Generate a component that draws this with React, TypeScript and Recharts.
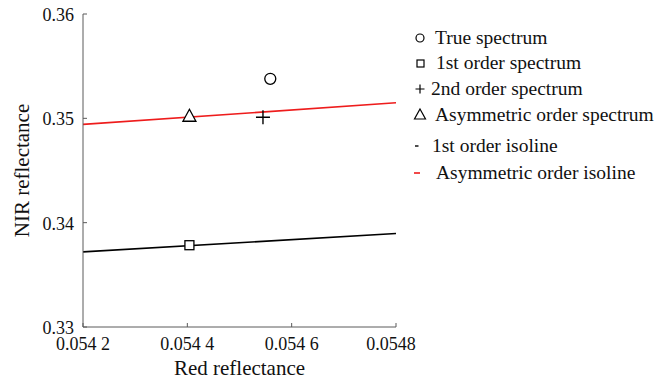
import React from 'react';
import { ComposedChart, Line, Scatter, XAxis, YAxis, Legend } from 'recharts';

const xTicks = [0.0542, 0.0544, 0.0546, 0.0548];
const xTickLabels = ['0.054 2', '0.054 4', '0.054 6', '0.0548'];
const yTicks = [0.33, 0.34, 0.35, 0.36];
const yTickLabels = ['0.33', '0.34', '0.35', '0.36'];

const trueSpectrum = [{ x: 0.054559, y: 0.35379 }];
const firstOrderSpectrum = [{ x: 0.054404, y: 0.33784 }];
const secondOrderSpectrum = [{ x: 0.054545, y: 0.3501 }];
const asymOrderSpectrum = [{ x: 0.054404, y: 0.3502 }];
const firstOrderIsoline = [
    { x: 0.0542, y: 0.3372 },
    { x: 0.0548, y: 0.33896 },
];
const asymOrderIsoline = [
    { x: 0.0542, y: 0.34942 },
    { x: 0.0548, y: 0.35149 },
];

const legendItems = [
    { name: 'True spectrum', marker: 'circle' },
    { name: '1st order spectrum', marker: 'square' },
    { name: '2nd order spectrum', marker: 'plus' },
    { name: 'Asymmetric order spectrum', marker: 'triangle' },
    { name: '1st order isoline', marker: 'dash' },
    { name: 'Asymmetric order isoline', marker: 'reddash' },
];

const FONT = '"Liberation Serif", "Times New Roman", serif';
const AXIS = '#5a5a5a';
const RED = '#ee1c1c';

const labelIndex = (v: number, ticks: number[]) => {
    let best = 0;
    ticks.forEach((t, i) => {
        if (Math.abs(t - v) < Math.abs(ticks[best] - v)) best = i;
    });
    return best;
};

const BottomTick = ({ x, y, payload }: any) => {
    const i = labelIndex(payload.value, xTicks);
    // last label sits a little left of its tick in the original
    const dx = i === xTicks.length - 1 ? -5 : 0;
    return (
        <g>
            <line x1={x} y1={y} x2={x} y2={y - 4} stroke={AXIS} />
            <text x={x + dx} y={y + 23} textAnchor="middle" fontSize={18} fontFamily={FONT} fill="#111">
                {xTickLabels[i]}
            </text>
        </g>
    );
};

const LeftTick = ({ x, y, payload }: any) => (
    <g>
        <line x1={x} y1={y} x2={x + 4} y2={y} stroke={AXIS} />
        <text x={x - 9} y={y + 7} textAnchor="end" fontSize={18} fontFamily={FONT} fill="#111">
            {yTickLabels[labelIndex(payload.value, yTicks)]}
        </text>
    </g>
);

const TopTick = ({ x, y }: any) => <line x1={x} y1={y} x2={x} y2={y + 4} stroke={AXIS} />;
const RightTick = ({ x, y }: any) => <line x1={x} y1={y} x2={x - 4} y2={y} stroke={AXIS} />;

const CircleShape = ({ cx, cy }: any) => (
    <circle cx={cx} cy={cy} r={5.5} fill="#fff" stroke="#000" strokeWidth={1.3} />
);
const SquareShape = ({ cx, cy }: any) => (
    <rect x={cx - 4.5} y={cy - 4.5} width={9} height={9} fill="#fff" stroke="#000" strokeWidth={1.3} />
);
const PlusShape = ({ cx, cy }: any) => (
    <path d={`M${cx - 7},${cy}H${cx + 7}M${cx},${cy - 7}V${cy + 7}`} stroke="#000" strokeWidth={1.4} />
);
const TriangleShape = ({ cx, cy }: any) => (
    <path
        d={`M${cx},${cy - 7}L${cx + 6.5},${cy + 5}L${cx - 6.5},${cy + 5}Z`}
        fill="#fff"
        stroke="#000"
        strokeWidth={1.3}
    />
);

const rowCenters = [13, 38, 64, 90, 121, 148];
const textStarts = [30, 31, 26, 30, 27, 31];

const renderLegend = () => (
    <svg width={253} height={170} style={{ overflow: 'visible' }}>
        {legendItems.map((item, i) => {
            const cy = rowCenters[i];
            const mx = 15;
            let marker: React.ReactNode = null;
            if (item.marker === 'circle') marker = <circle cx={mx} cy={cy} r={4} fill="none" stroke="#000" strokeWidth={1.2} />;
            if (item.marker === 'square') marker = <rect x={mx - 3} y={cy - 3} width={7} height={7} fill="none" stroke="#000" strokeWidth={1.2} />;
            if (item.marker === 'plus') marker = <path d={`M${mx - 4.5},${cy}H${mx + 4.5}M${mx},${cy - 4.5}V${cy + 4.5}`} stroke="#000" strokeWidth={1.2} />;
            if (item.marker === 'triangle') marker = <path d={`M${mx},${cy - 6}L${mx + 5.5},${cy + 4}L${mx - 5.5},${cy + 4}Z`} fill="none" stroke="#000" strokeWidth={1.2} />;
            if (item.marker === 'dash') marker = <line x1={mx - 5} y1={cy} x2={mx - 1.5} y2={cy} stroke="#000" strokeWidth={1.4} />;
            if (item.marker === 'reddash') marker = <line x1={mx - 6} y1={cy} x2={mx} y2={cy} stroke={RED} strokeWidth={1.6} />;
            return (
                <g key={item.name}>
                    {marker}
                    <text x={textStarts[i]} y={cy + 6} fontSize={19.5} fontFamily={FONT} fill="#111">
                        {item.name}
                    </text>
                </g>
            );
        })}
    </svg>
);

export default function App() {
    return (
        <div style={{ position: 'absolute', left: 0, top: 0, width: 658, height: 382, background: '#fff' }}>
            <ComposedChart width={658} height={382} margin={{ top: 14, right: 262, bottom: 0, left: 0 }}>
                <XAxis
                    dataKey="x"
                    type="number"
                    domain={[0.0542, 0.0548]}
                    ticks={xTicks}
                    interval={0}
                    height={55}
                    tickSize={0}
                    tickMargin={0}
                    tickLine={false}
                    tick={<BottomTick />}
                    stroke={AXIS}
                    allowDataOverflow
                    label={{ value: 'Red reflectance', position: 'insideBottom', offset: 7, fontSize: 21, fontFamily: FONT, fill: '#111' }}
                />
                <XAxis
                    xAxisId="top"
                    orientation="top"
                    type="number"
                    domain={[0.0542, 0.0548]}
                    ticks={xTicks}
                    interval={0}
                    height={0}
                    tickSize={0}
                    tickMargin={0}
                    tickLine={false}
                    tick={<TopTick />}
                    stroke={AXIS}
                    allowDataOverflow
                />
                <YAxis
                    dataKey="y"
                    type="number"
                    domain={[0.33, 0.36]}
                    ticks={yTicks}
                    interval={0}
                    width={83}
                    tickSize={0}
                    tickMargin={0}
                    tickLine={false}
                    tick={<LeftTick />}
                    stroke={AXIS}
                    allowDataOverflow
                    label={{ value: 'NIR reflectance', angle: -90, position: 'insideLeft', offset: 22, fontSize: 21, fontFamily: FONT, fill: '#111', style: { textAnchor: 'middle' } }}
                />
                <YAxis
                    yAxisId="right"
                    orientation="right"
                    type="number"
                    domain={[0.33, 0.36]}
                    ticks={yTicks}
                    interval={0}
                    width={0}
                    tickSize={0}
                    tickMargin={0}
                    tickLine={false}
                    tick={<RightTick />}
                    stroke={AXIS}
                    allowDataOverflow
                />
                <Legend
                    layout="horizontal"
                    align="center"
                    verticalAlign="middle"
                    wrapperStyle={{ left: 405, top: 25, width: 253, height: 170 }}
                    content={renderLegend}
                />
                <Line data={firstOrderIsoline} dataKey="y" type="linear" stroke="#000" strokeWidth={1.6} dot={false} isAnimationActive={false} />
                <Line data={asymOrderIsoline} dataKey="y" type="linear" stroke={RED} strokeWidth={1.6} dot={false} isAnimationActive={false} />
                <Scatter data={trueSpectrum} dataKey="y" shape={<CircleShape />} isAnimationActive={false} />
                <Scatter data={firstOrderSpectrum} dataKey="y" shape={<SquareShape />} isAnimationActive={false} />
                <Scatter data={secondOrderSpectrum} dataKey="y" shape={<PlusShape />} isAnimationActive={false} />
                <Scatter data={asymOrderSpectrum} dataKey="y" shape={<TriangleShape />} isAnimationActive={false} />
            </ComposedChart>
        </div>
    );
}
